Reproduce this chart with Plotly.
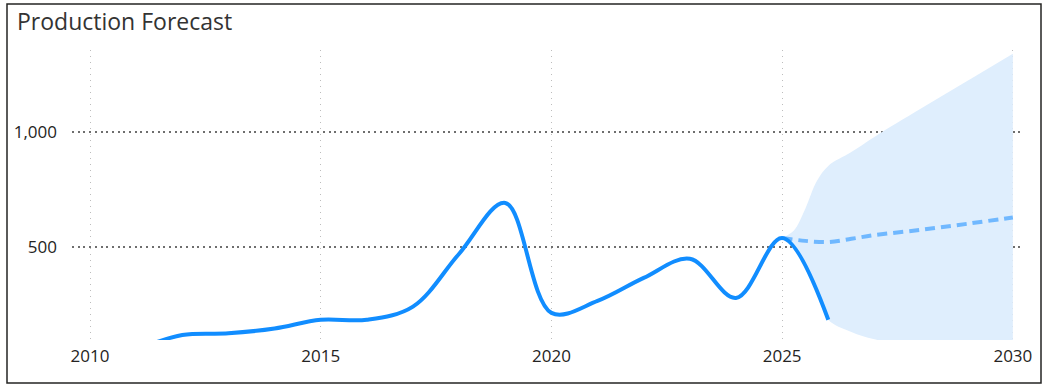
import plotly.graph_objects as go

# Actual production (yearly)
years = [2010, 2011, 2012, 2013, 2014, 2015, 2016, 2017, 2018, 2019, 2020, 2021, 2022, 2023, 2024, 2025, 2026]
production = [20, 58, 117, 124, 145, 183, 183, 240, 470, 691, 213, 265, 365, 448, 278, 539, 183]

# Forecast
fc_x = [2025, 2025.5, 2026, 2026.5, 2027, 2028, 2029, 2030]
fc_y = [539, 526, 521, 535, 551, 574, 600, 628]

# Confidence band
band_x = [2025, 2025.25, 2025.5, 2025.75, 2026, 2026.5, 2027, 2028, 2029, 2030]
band_upper = [539, 570, 665, 785, 852, 912, 978, 1100, 1220, 1340]
band_lower = [539, 505, 415, 300, 183, 130, 98, 60, 40, 20]

x_ticks = [2010, 2015, 2020, 2025, 2030]
y_ticks = [500, 1000]
y_tick_labels = ["500", "1,000"]

fig = go.Figure()

fig.add_trace(go.Scatter(x=band_x, y=band_lower, mode="lines",
                         line=dict(width=0, shape="spline", color="rgba(0,0,0,0)"),
                         showlegend=False, hoverinfo="skip"))
fig.add_trace(go.Scatter(x=band_x, y=band_upper, mode="lines", fill="tonexty",
                         fillcolor="#DFEEFD",
                         line=dict(width=0, shape="spline", color="rgba(0,0,0,0)"),
                         showlegend=False, hoverinfo="skip"))
fig.add_trace(go.Scatter(x=fc_x, y=fc_y, mode="lines",
                         line=dict(color="#70B8FF", width=4, dash="10px,6px", shape="spline"),
                         showlegend=False))
fig.add_trace(go.Scatter(x=years, y=production, mode="lines",
                         line=dict(color="#118DFF", width=4, shape="spline", smoothing=1.0),
                         showlegend=False))

fig.update_layout(
    width=1046, height=390,
    margin=dict(l=72, r=23, t=50, b=50),
    paper_bgcolor="white", plot_bgcolor="white",
    font=dict(family="Open Sans, Noto Sans, sans-serif", color="#252423", size=17),
    showlegend=False,
)
fig.update_xaxes(range=[2009.61, 2030.22], tickvals=x_ticks, ticktext=[str(t) for t in x_ticks],
                 showgrid=True, gridcolor="#BDBDBD", griddash="1px,5px", gridwidth=1,
                 zeroline=False, showline=False, ticks="", ticklabelstandoff=4,
                 tickfont=dict(size=17, color="#252423"))
fig.update_yaxes(range=[95, 1356], tickvals=y_ticks, ticktext=y_tick_labels,
                 showgrid=True, gridcolor="#6E6E6E", griddash="2px,3.7px", gridwidth=2,
                 zeroline=False, showline=False, ticks="", ticklabelstandoff=14,
                 tickfont=dict(size=17, color="#252423"))

# outer border
fig.add_shape(type="rect", xref="paper", yref="paper",
              x0=(7 - 72) / 951, x1=(1041 - 72) / 951,
              y0=(340 - 383) / 290, y1=(340 - 4) / 290,
              line=dict(color="#252423", width=1.5), fillcolor="rgba(0,0,0,0)", layer="above")

fig.add_annotation(text="Production Forecast", xref="paper", yref="paper",
                   x=(15 - 72) / 951, y=(340 - 21) / 290, xanchor="left", yanchor="middle",
                   showarrow=False, font=dict(family="Open Sans, Noto Sans, sans-serif", size=23,
                                              color="#333333", weight=500))

fig.write_html("out.html")
